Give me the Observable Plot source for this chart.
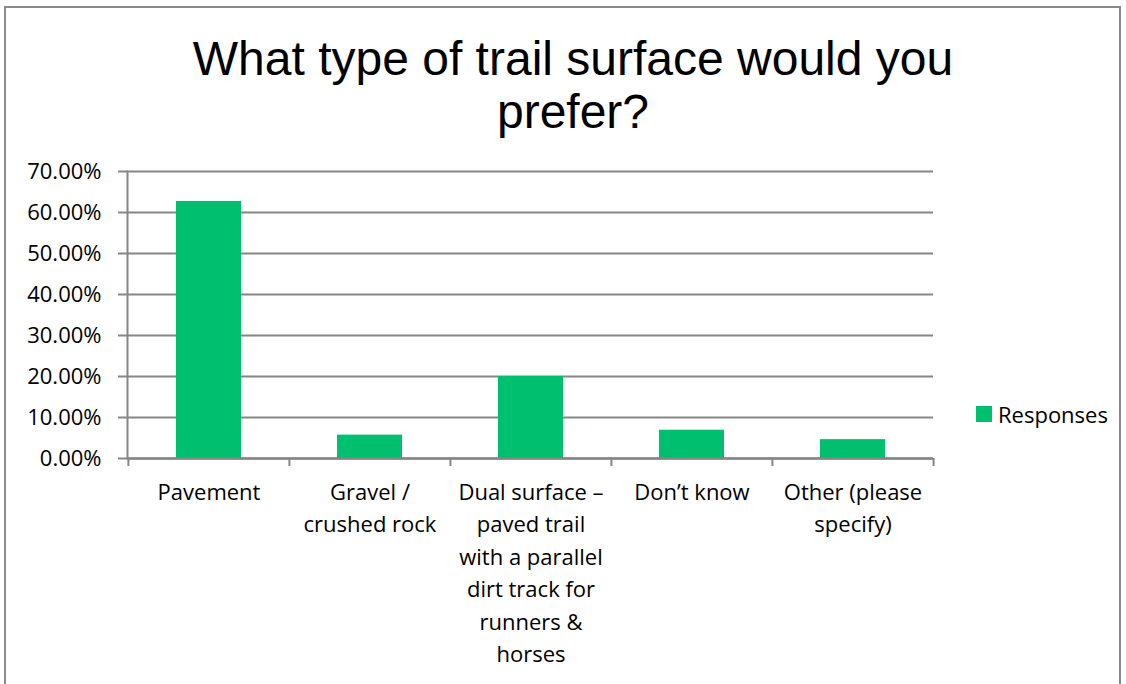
<!DOCTYPE html>
<html>
<head>
<meta charset="utf-8">
<script src="https://cdn.jsdelivr.net/npm/d3@7"></script>
<script src="https://cdn.jsdelivr.net/npm/@observablehq/plot@0.6"></script>
<style>
  html, body { margin: 0; padding: 0; background: #fff; overflow: hidden; }
  #page { position: relative; width: 1126px; height: 684px; overflow: hidden; background: #fff; }
  #frame { position: absolute; left: 4px; top: 6px; width: 1117px; height: 720px; border: 2px solid #8a8a8a; box-sizing: border-box; }
  #title { position: absolute; left: 173px; top: 32px; width: 800px; text-align: center;
           font-family: "Liberation Sans", Arial, sans-serif; font-size: 48px; line-height: 53px; color: #000; }
  #chart { position: absolute; left: 0; top: 0; }
  #legend { position: absolute; left: 976px; top: 400px; font-family: "Open Sans", sans-serif; font-size: 22px; color: #000;
            display: flex; align-items: center; height: 28px; }
  #legend .sw { width: 16px; height: 16px; margin-right: 6px; }
</style>
</head>
<body>
<div id="page">
  <div id="frame"></div>
  <div id="title"></div>
  <div id="chart"></div>
  <div id="legend"></div>
</div>
<script>
const titleLines = ["What type of trail surface would you", "prefer?"];
const categories = [
  "Pavement",
  "Gravel /\ncrushed rock",
  "Dual surface –\npaved trail\nwith a parallel\ndirt track for\nrunners &\nhorses",
  "Don’t know",
  "Other (please\nspecify)"
];
const responses = [0.627, 0.057, 0.200, 0.069, 0.046];
const yTicks = [0, 0.1, 0.2, 0.3, 0.4, 0.5, 0.6, 0.7];
const seriesName = "Responses";
const barColor = "#00bf6f";
const gridColor = "#868686";

const data = categories.map((c, i) => ({category: c, value: responses[i]}));

const W = 1126, H = 684;
const mL = 127, mR = 193, mT = 171, mB = 226;
const halfBand = (W - mL - mR) / categories.length / 2;

const chart = Plot.plot({
  width: W,
  height: H,
  marginLeft: mL,
  marginRight: mR,
  marginTop: mT,
  marginBottom: mB,
  style: {fontFamily: "'Open Sans', sans-serif", fontSize: "22px", color: "#000", background: "transparent"},
  x: {type: "band", domain: categories, padding: 0},
  y: {domain: [0, 0.7]},
  marks: [
    Plot.ruleY(yTicks, {stroke: gridColor, strokeWidth: 2}),
    Plot.frame({anchor: "left", stroke: gridColor, strokeWidth: 2}),
    Plot.barY(data, {x: "category", y: "value", fill: barColor, insetLeft: 48, insetRight: 48}),
    Plot.ruleY([0], {stroke: gridColor, strokeWidth: 2.5}),
    Plot.ruleX(categories, {x: d => d, y1: 0, y2: 0, dx: -halfBand, insetBottom: -8, stroke: gridColor, strokeWidth: 2}),
    Plot.ruleX(categories.slice(-1), {x: d => d, y1: 0, y2: 0, dx: halfBand, insetBottom: -8, stroke: gridColor, strokeWidth: 2}),
    Plot.axisY({ticks: yTicks, tickFormat: d3.format(".2%"), tickSize: 9, tickPadding: 17, stroke: gridColor, strokeWidth: 2, fill: "#000", fontSize: 22, label: null}),
    Plot.axisX({tickSize: 0, tickPadding: 18, lineHeight: 1.48, fill: "#000", fontSize: 22, label: null})
  ]
});
document.getElementById("chart").appendChild(chart);
const titleEl = document.getElementById("title");
titleLines.forEach((t, i) => {
  if (i) titleEl.appendChild(document.createElement("br"));
  titleEl.appendChild(document.createTextNode(t));
});
const legendEl = document.getElementById("legend");
const sw = document.createElement("div");
sw.className = "sw";
sw.style.background = barColor;
const lab = document.createElement("span");
lab.textContent = seriesName;
legendEl.append(sw, lab);
</script>
</body>
</html>
